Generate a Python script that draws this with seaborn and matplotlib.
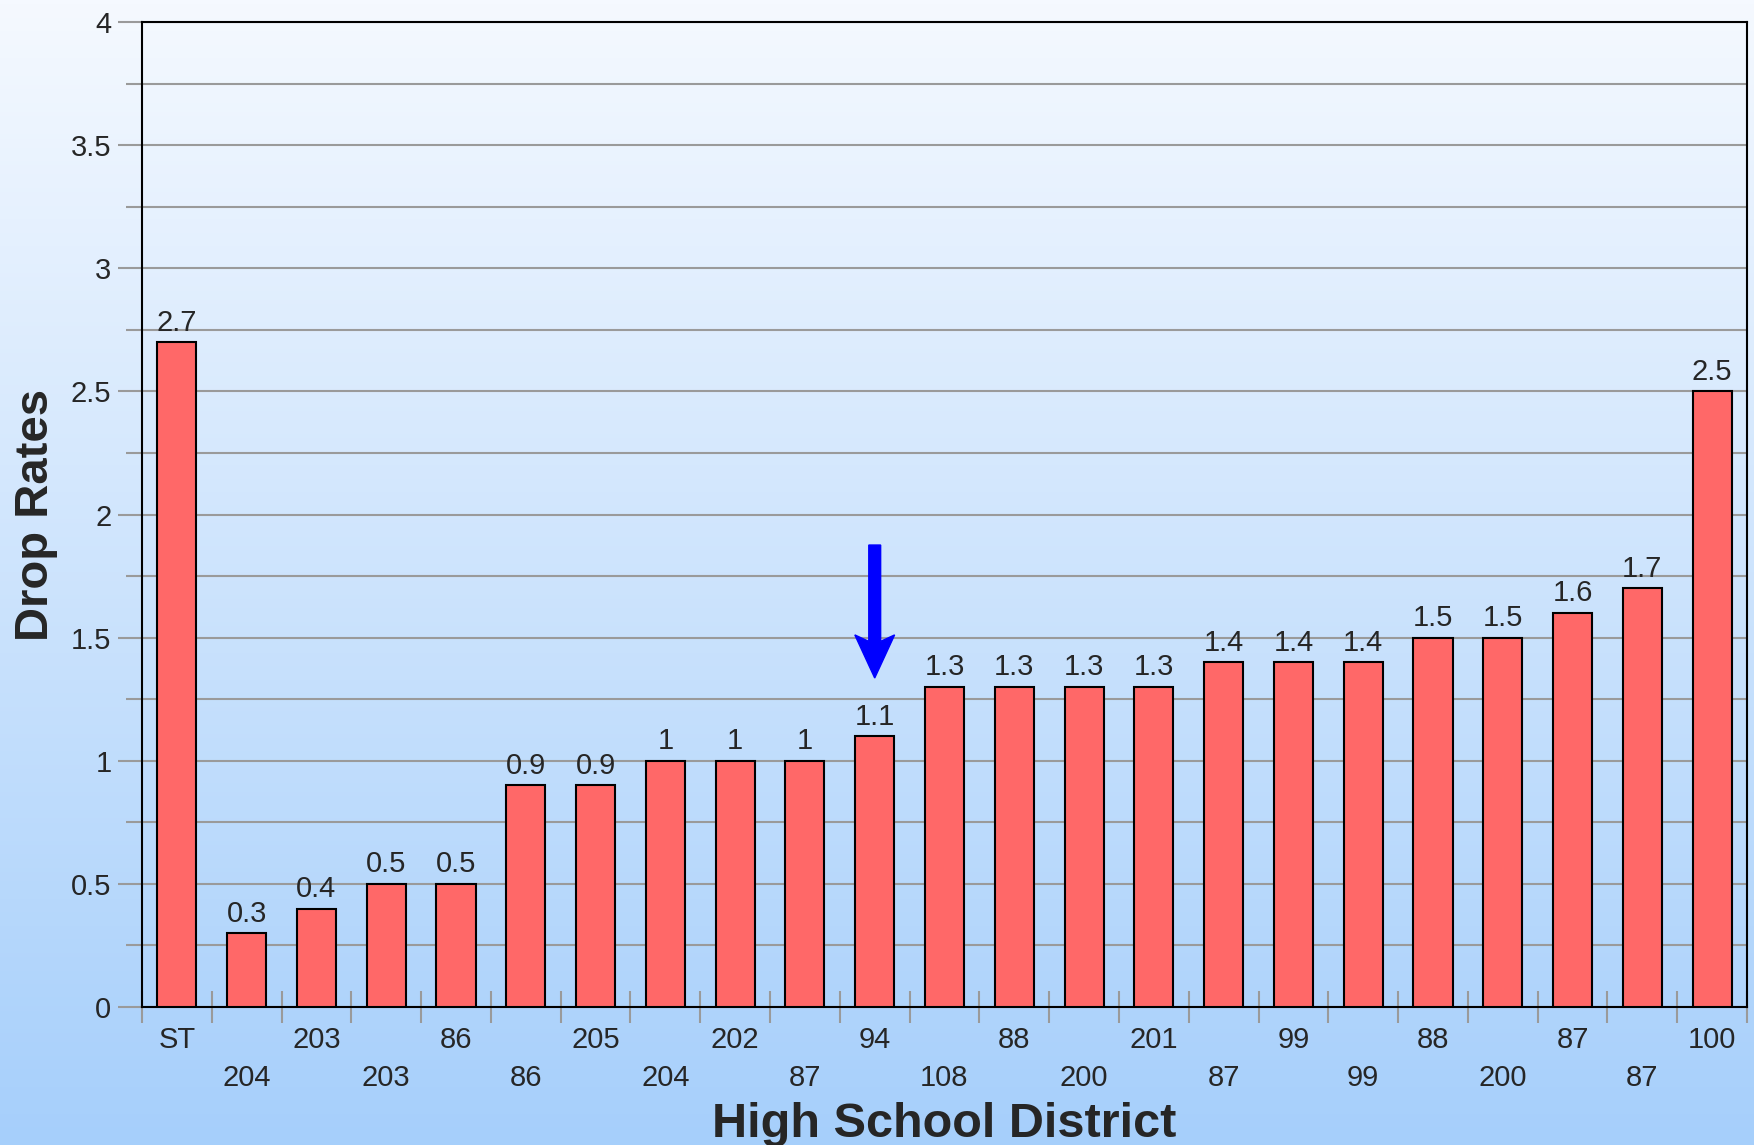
import numpy as np
import pandas as pd
import matplotlib
matplotlib.use("Agg")
import matplotlib.pyplot as plt
import seaborn as sns

# values
districts = ['ST', '204', '203', '203', '86', '86', '205', '204', '202', '87', '94', '108',
             '88', '200', '201', '87', '99', '99', '88', '200', '87', '87', '100']
drop_rates = [2.7, 0.3, 0.4, 0.5, 0.5, 0.9, 0.9, 1, 1, 1, 1.1, 1.3,
              1.3, 1.3, 1.3, 1.4, 1.4, 1.4, 1.5, 1.5, 1.6, 1.7, 2.5]
highlight = 10  # the "94" bar gets the blue arrow

df = pd.DataFrame({'rank': range(len(districts)), 'district': districts, 'rate': drop_rates})

sns.set_style('white')
plt.rcParams['font.family'] = ['Liberation Sans', 'DejaVu Sans']

fig = plt.figure(figsize=(17.54, 11.45), dpi=100)

# light gradient background over the whole figure
bg = fig.add_axes([0, 0, 1, 1], zorder=-10)
top = np.array([245, 249, 255]) / 255
bottom = np.array([166, 207, 251]) / 255
t = np.linspace(0, 1, 256)[:, None]
grad = top * (1 - t) + bottom * t
bg.imshow(grad[:, None, :].repeat(2, axis=1), aspect='auto', extent=[0, 1, 0, 1])
bg.axis('off')

ax = fig.add_axes([142 / 1754, 1 - 1007 / 1145, 1605 / 1754, 985 / 1145])
ax.set_facecolor('none')

sns.barplot(data=df, x='rank', y='rate', color='#ff6868', saturation=1, width=0.56,
            edgecolor='black', linewidth=1.5, ax=ax, zorder=3)

ax.set_xlim(-0.5, len(districts) - 0.5)
ax.set_ylim(0, 4)

# y axis: labels every 0.5, gridlines every 0.25
ax.set_yticks(np.arange(0, 4.01, 0.5))
ax.set_yticklabels(['0', '0.5', '1', '1.5', '2', '2.5', '3', '3.5', '4'])
ax.set_yticks(np.arange(0.25, 4, 0.5), minor=True)
ax.grid(which='both', axis='y', color='#9a9a9a', linewidth=1.5, zorder=0)
ax.set_axisbelow(True)
ax.tick_params(axis='y', which='major', length=17, width=1.5, color='#9a9a9a',
               labelsize=21, pad=5, left=True)
ax.tick_params(axis='y', which='minor', length=11.5, width=1.5, color='#9a9a9a', left=True)

# x axis: labels on two staggered rows, tick marks between the bars
ax.set_xticks(df['rank'])
ax.set_xticklabels([d if i % 2 == 0 else '\n' + d for i, d in enumerate(districts)],
                   linespacing=1.45)
ax.set_xticks(np.arange(-0.5, len(districts), 1), minor=True)
ax.tick_params(axis='x', which='major', length=0, labelsize=21, pad=14)
ax.tick_params(axis='x', which='minor', length=23, width=1.5, color='#9a9a9a',
               direction='inout', bottom=True)

for s in ax.spines.values():
    s.set_color('black')
    s.set_linewidth(1.5)

ax.bar_label(ax.containers[0], fmt='%g', padding=4, fontsize=21)

ax.set_ylabel('Drop Rates', fontsize=34, fontweight='bold')
ax.yaxis.set_label_coords(-0.0523, 0.5)
ax.set_xlabel('High School District', fontsize=35, fontweight='bold')
ax.xaxis.set_label_coords(0.5, -0.096)

# blue arrow pointing at the highlighted district
ax.arrow(highlight, 1.876, 0, 1.336 - 1.876, width=0.17, head_width=0.57,
         head_length=0.175, length_includes_head=True, color='#0000ff',
         overhang=0.15, zorder=5)

fig.savefig('out.png', dpi=100)
